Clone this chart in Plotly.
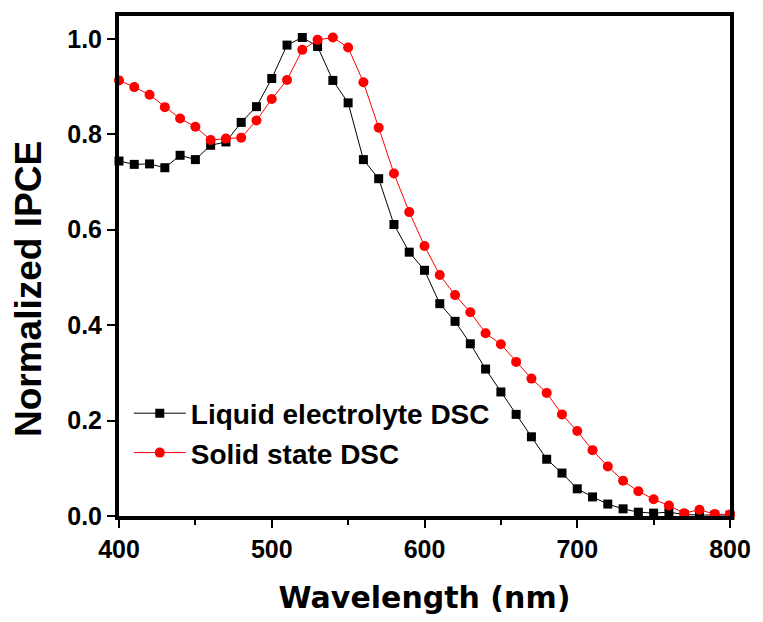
import plotly.graph_objects as go

wavelength = list(range(400, 801, 10))
liquid = [0.744, 0.737, 0.738, 0.730, 0.756, 0.747, 0.777, 0.784, 0.825, 0.858,
          0.917, 0.987, 1.003, 0.984, 0.913, 0.866, 0.747, 0.707, 0.611, 0.553,
          0.515, 0.445, 0.408, 0.361, 0.308, 0.260, 0.213, 0.166, 0.119, 0.090,
          0.057, 0.040, 0.025, 0.015, 0.008, 0.006, 0.008, 0.003, 0.002, 0.002, 0.002]
solid = [0.913, 0.899, 0.883, 0.857, 0.833, 0.816, 0.788, 0.791, 0.793, 0.829,
         0.874, 0.914, 0.977, 0.998, 1.003, 0.982, 0.909, 0.814, 0.718, 0.637,
         0.566, 0.505, 0.463, 0.427, 0.383, 0.360, 0.323, 0.288, 0.258, 0.213,
         0.178, 0.138, 0.104, 0.074, 0.052, 0.035, 0.022, 0.006, 0.013, 0.004, 0.003]

FONT = "Liberation Sans, Arial, sans-serif"
WIDE = "DejaVu Sans, Verdana, sans-serif"

fig = go.Figure()
fig.add_trace(go.Scatter(
    x=wavelength, y=liquid, mode="lines+markers", name="Liquid electrolyte DSC",
    line=dict(color="black", width=1),
    marker=dict(symbol="square", size=9, color="black"),
    cliponaxis=False,
))
fig.add_trace(go.Scatter(
    x=wavelength, y=solid, mode="lines+markers", name="Solid state DSC",
    line=dict(color="red", width=1),
    marker=dict(symbol="circle", size=10, color="red"),
    cliponaxis=False,
))

fig.update_layout(
    width=763, height=622,
    margin=dict(l=119, r=26, t=15, b=104),
    plot_bgcolor="white", paper_bgcolor="white",
    font=dict(family=FONT, color="black"),
    showlegend=True,
    legend=dict(
        x=0.016, y=0.255, xanchor="left", yanchor="top",
        bgcolor="rgba(0,0,0,0)",
        font=dict(family=FONT, size=28, color="black", weight="bold"),
        itemwidth=52, tracegroupgap=0,
    ),
    annotations=[dict(
        text="Normalized IPCE", textangle=-90,
        xref="paper", yref="paper", x=0, y=0.454, xshift=-91,
        xanchor="center", yanchor="middle", showarrow=False,
        font=dict(family=FONT, size=37, color="black", weight="bold"),
    )],
)
fig.update_xaxes(
    range=[400, 800], tickvals=[400, 500, 600, 700, 800],
    ticks="outside", ticklen=8, tickwidth=2, tickcolor="black",
    minor=dict(tickvals=[450, 550, 650, 750], ticks="outside", ticklen=5, tickwidth=2, tickcolor="black"),
    showline=True, linewidth=4, linecolor="black", mirror=True,
    showgrid=False, zeroline=False,
    tickfont=dict(family=FONT, size=25, color="black", weight="bold"),
    title=dict(text="Wavelength (nm)", font=dict(family=WIDE, size=30, color="black", weight="bold"), standoff=26),
)
fig.update_yaxes(
    range=[0, 1.048], tickvals=[0, 0.2, 0.4, 0.6, 0.8, 1.0], tickformat=".1f",
    ticks="outside", ticklen=8, tickwidth=2, tickcolor="black",
    showline=True, linewidth=4, linecolor="black", mirror=True,
    showgrid=False, zeroline=False,
    tickfont=dict(family=FONT, size=25, color="black", weight="bold"),
)

fig.write_html("out.html")
